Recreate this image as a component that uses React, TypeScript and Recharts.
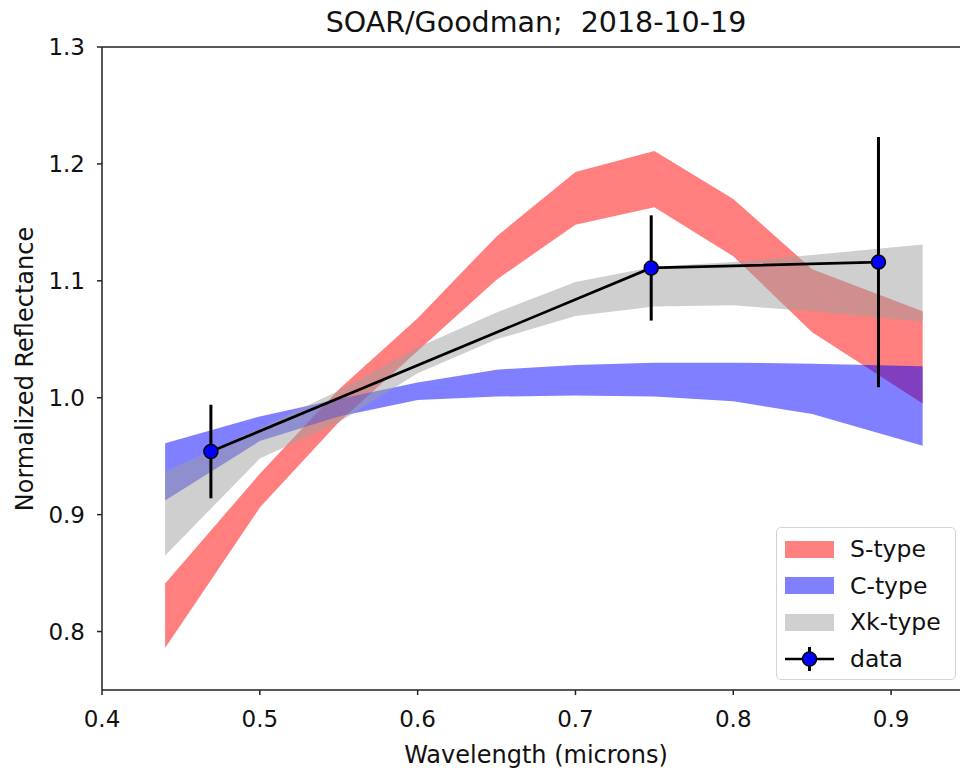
import { Area, ComposedChart, ErrorBar, Legend, ReferenceLine, Scatter, XAxis, YAxis } from 'recharts';

// taxonomic template bands (low / high reflectance at each wavelength)
const wavelengths = [0.44, 0.5, 0.55, 0.6, 0.65, 0.7, 0.75, 0.8, 0.85, 0.92];
const sTypeLow = [0.786, 0.906, 0.979, 1.04, 1.101, 1.148, 1.163, 1.121, 1.056, 0.995];
const sTypeHigh = [0.841, 0.935, 1.007, 1.068, 1.138, 1.193, 1.211, 1.17, 1.11, 1.074];
const cTypeLow = [0.912, 0.963, 0.984, 0.998, 1.001, 1.002, 1.001, 0.997, 0.986, 0.959];
const cTypeHigh = [0.961, 0.984, 0.999, 1.013, 1.024, 1.028, 1.03, 1.03, 1.029, 1.027];
const xkTypeLow = [0.865, 0.948, 0.979, 1.021, 1.05, 1.07, 1.078, 1.079, 1.074, 1.065];
const xkTypeHigh = [0.937, 0.974, 1.006, 1.043, 1.073, 1.099, 1.112, 1.116, 1.122, 1.131];

// measured photometry
const obsWavelength = [0.469, 0.748, 0.892];
const obsReflectance = [0.954, 1.111, 1.116];
const obsError = [0.04, 0.045, 0.107];

const xTicks = [0.4, 0.5, 0.6, 0.7, 0.8, 0.9];
const yTicks = [0.8, 0.9, 1.0, 1.1, 1.2, 1.3];

const bands = wavelengths.map((w, i) => ({
  w,
  s: [sTypeLow[i], sTypeHigh[i]],
  c: [cTypeLow[i], cTypeHigh[i]],
  xk: [xkTypeLow[i], xkTypeHigh[i]],
}));

const obs = obsWavelength.map((w, i) => ({ w, r: obsReflectance[i], err: obsError[i] }));

const FONT = '"DejaVu Sans", sans-serif';
const INK = '#222';

const dot = (props: any) => (
  <circle cx={props.cx} cy={props.cy} r={7} fill="#0000ff" stroke="#000" strokeWidth={1.5} />
);

function KeyBox() {
  const rows = [
    { name: 'S-type', color: '#ff8080' },
    { name: 'C-type', color: '#8080ff' },
    { name: 'Xk-type', color: '#d0d0d0' },
  ];
  return (
    <div
      style={{
        width: 180,
        height: 153,
        border: '1px solid #d4d4d4',
        borderRadius: 5,
        background: 'rgba(255,255,255,0.85)',
        paddingTop: 3,
        boxSizing: 'border-box',
        fontFamily: FONT,
        fontSize: 23.5,
        color: '#111',
      }}
    >
      {rows.map((r) => (
        <div key={r.name} style={{ height: 36.5, display: 'flex', alignItems: 'center' }}>
          <div style={{ width: 49, height: 17, marginLeft: 8, background: r.color }} />
          <span style={{ marginLeft: 16 }}>{r.name}</span>
        </div>
      ))}
      <div style={{ height: 36.5, display: 'flex', alignItems: 'center' }}>
        <svg width={49} height={26} style={{ marginLeft: 8 }}>
          <line x1={0} y1={13} x2={49} y2={13} stroke="#000" strokeWidth={2.5} />
          <line x1={24.5} y1={1} x2={24.5} y2={25} stroke="#000" strokeWidth={3} />
          <circle cx={24.5} cy={13} r={7} fill="#0000ff" stroke="#000" strokeWidth={1.5} />
        </svg>
        <span style={{ marginLeft: 16 }}>data</span>
      </div>
    </div>
  );
}

export default function App() {
  return (
    <div
      style={{
        position: 'absolute',
        left: 0,
        top: 0,
        width: 960,
        height: 770,
        overflow: 'hidden',
        background: '#fff',
        fontFamily: FONT,
      }}
    >
      <div
        style={{
          position: 'absolute',
          left: 236,
          top: 9,
          width: 600,
          textAlign: 'center',
          fontSize: 28.5,
          lineHeight: '28.5px',
          color: '#111',
          whiteSpace: 'pre',
        }}
      >
        {'SOAR/Goodman;  2018-10-19'}
      </div>
      <div
        style={{
          position: 'absolute',
          left: -175,
          top: 357,
          width: 400,
          height: 24,
          textAlign: 'center',
          fontSize: 24,
          lineHeight: '24px',
          color: '#111',
          transform: 'rotate(-90deg)',
        }}
      >
        Normalized Reflectance
      </div>
      <ComposedChart
        width={980}
        height={770}
        data={bands}
        margin={{ top: 47, right: 10, bottom: 0, left: 0 }}
        style={{ position: 'absolute', left: 0, top: 0 }}
      >
        <XAxis
          type="number"
          dataKey="w"
          domain={[0.4, 0.95]}
          ticks={xTicks}
          allowDataOverflow
          height={80}
          tickSize={5}
          tickMargin={16}
          tickFormatter={(v: number) => v.toFixed(1)}
          stroke={INK}
          strokeWidth={1.5}
          tick={{ fill: '#111', fontSize: 23, fontFamily: FONT }}
          label={{ value: 'Wavelength (microns)', position: 'insideBottom', offset: 7, fill: '#111', fontSize: 24, fontFamily: FONT }}
        />
        <YAxis
          type="number"
          domain={[0.75, 1.3]}
          ticks={yTicks}
          allowDataOverflow
          width={102}
          tickSize={5}
          tickMargin={12}
          tickFormatter={(v: number) => v.toFixed(1)}
          stroke={INK}
          strokeWidth={1.5}
          tick={{ fill: '#111', fontSize: 23, fontFamily: FONT }}
        />
        <ReferenceLine y={1.3} stroke={INK} strokeWidth={1.5} />
        <Area type="linear" dataKey="s" stroke="none" fill="#ff0000" fillOpacity={0.5} isAnimationActive={false} />
        <Area type="linear" dataKey="c" stroke="none" fill="#0000ff" fillOpacity={0.5} isAnimationActive={false} />
        <Area type="linear" dataKey="xk" stroke="none" fill="#a0a0a0" fillOpacity={0.5} isAnimationActive={false} />
        <Scatter
          data={obs}
          dataKey="r"
          line={{ stroke: '#000', strokeWidth: 2.7 }}
          shape={dot}
          isAnimationActive={false}
        >
          <ErrorBar dataKey="err" direction="y" width={0} stroke="#000" strokeWidth={3} isAnimationActive={false} />
        </Scatter>
        <Legend
          layout="horizontal"
          verticalAlign="middle"
          content={() => <KeyBox />}
          wrapperStyle={{ left: 776, top: 527, width: 180, height: 153 }}
        />
      </ComposedChart>
    </div>
  );
}
